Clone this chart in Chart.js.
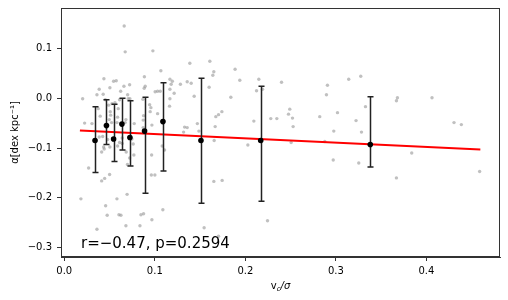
<!DOCTYPE html>
<html>
<head>
<meta charset="utf-8">
<script src="https://cdn.jsdelivr.net/npm/chart.js@4"></script>
<style>
  body { margin: 0; background: #fff; }
  canvas { display: block; }
</style>
</head>
<body>
<canvas id="grafico" width="508" height="300"></canvas>
<script>
// individual galaxies (grey cloud): v_c/sigma, alpha
const puntosX = [0.0203, 0.0184, 0.0269, 0.0225, 0.0306, 0.0361, 0.0386, 0.0438, 0.0430, 0.0453,
  0.0375, 0.0397, 0.0490, 0.0504, 0.0545, 0.0574, 0.0527, 0.0560, 0.0508, 0.0512,
  0.0497, 0.0523, 0.0582, 0.0596, 0.0589, 0.0611, 0.0623, 0.0386, 0.0424, 0.0435,
  0.0413, 0.0441, 0.0479, 0.0504, 0.0611, 0.0589, 0.0413, 0.0446, 0.0501, 0.0457,
  0.0474, 0.0361, 0.0604, 0.0626, 0.0582, 0.0694, 0.0681, 0.0836, 0.0847, 0.0876,
  0.0968, 0.0962, 0.1001, 0.1089, 0.0698, 0.0722, 0.0684, 0.0640, 0.0640, 0.0747,
  0.0762, 0.0769, 0.0965, 0.1082, 0.1108, 0.0662, 0.0673, 0.0979, 0.1067, 0.0885,
  0.1167, 0.1194, 0.0659, 0.0722, 0.0894, 0.0883, 0.1004, 0.1031, 0.1060, 0.1181,
  0.1167, 0.1214, 0.1283, 0.0700, 0.0706, 0.0725, 0.0869, 0.0943, 0.0957, 0.0949,
  0.1167, 0.1163, 0.1031, 0.0876, 0.0872, 0.0681, 0.0673, 0.0773, 0.0872, 0.0968,
  0.1329, 0.1358, 0.1318, 0.1358, 0.1402, 0.1387, 0.1435, 0.1470, 0.1487, 0.1608,
  0.1652, 0.1641, 0.1600, 0.1741, 0.1704, 0.1674, 0.1667, 0.1656, 0.1652, 0.1744,
  0.1545, 0.1704, 0.1887, 0.1939, 0.1840, 0.2028, 0.2094, 0.2149, 0.2124, 0.2190,
  0.2400, 0.2281, 0.2348, 0.2491, 0.2477, 0.2521, 0.2528, 0.2506, 0.2245, 0.2822,
  0.2907, 0.2896, 0.3018, 0.2977, 0.2971, 0.3142, 0.3275, 0.3327, 0.3223, 0.3283,
  0.3253, 0.3669, 0.3680, 0.3669, 0.3838, 0.4062, 0.4305, 0.4386, 0.4588, 0.2878];
const puntosY = [-0.001, -0.202, -0.140, -0.050, -0.051, 0.007, 0.018, 0.039, 0.008, -0.003,
  -0.021, -0.036, -0.014, 0.021, 0.034, 0.035, -0.011, -0.009, -0.027, -0.034,
  -0.043, -0.049, -0.049, -0.021, -0.038, -0.003, 0.014, -0.078, -0.077, -0.098,
  -0.108, -0.102, -0.083, -0.098, -0.089, -0.096, -0.166, -0.161, -0.153, -0.216,
  -0.235, -0.263, -0.234, -0.235, -0.202, -0.193, -0.256, -0.256, -0.234, -0.232,
  -0.244, -0.154, -0.154, -0.224, -0.133, -0.120, -0.108, -0.080, -0.091, -0.082,
  -0.092, -0.114, -0.114, -0.096, -0.104, 0.145, 0.093, 0.095, 0.055, 0.043,
  0.038, 0.034, 0.024, 0.027, 0.024, 0.020, 0.013, 0.014, 0.014, 0.028,
  0.018, 0.010, 0.028, 0.007, -0.001, -0.001, -0.002, -0.013, -0.019, -0.027,
  -0.001, -0.016, -0.031, -0.035, -0.044, -0.043, -0.049, -0.051, -0.059, -0.054,
  -0.058, -0.059, -0.068, 0.033, 0.030, 0.070, 0.004, -0.051, -0.066, 0.074,
  0.053, 0.046, 0.022, -0.027, -0.033, -0.037, -0.057, -0.085, -0.167, -0.165,
  -0.260, -0.277, 0.058, 0.036, 0.002, -0.094, -0.046, 0.038, 0.015, 0.018,
  0.032, -0.041, -0.041, -0.022, -0.032, -0.040, -0.057, -0.089, -0.246, -0.037,
  0.026, 0.007, -0.029, -0.066, -0.124, 0.038, 0.044, -0.017, -0.045, -0.068,
  -0.130, -0.005, 0.001, -0.160, -0.110, 0.001, -0.049, -0.053, -0.147, -0.087];

// binned medians with error bars
const binX = [0.034, 0.0466, 0.0545, 0.0637, 0.0725, 0.0887, 0.109, 0.151, 0.217, 0.338];
const binY = [-0.085, -0.055, -0.082, -0.052, -0.079, -0.066, -0.047, -0.085, -0.085, -0.093];
const binArriba = [-0.017, -0.003, -0.012, 0.000, -0.005, 0.002, 0.031, 0.040, 0.024, 0.003];
const binAbajo = [-0.149, -0.093, -0.127, -0.104, -0.136, -0.191, -0.146, -0.211, -0.207, -0.138];

// linear fit
const ajusteX = [0.0173, 0.4596];
const ajusteY = [-0.065, -0.103];

const ticksX = [0.0, 0.1, 0.2, 0.3, 0.4];
const ticksY = [-0.3, -0.2, -0.1, 0.0, 0.1];

const textoCorrelacion = 'r=\u22120.47, p=0.2594';
const tituloY = '\u03b1[dex kpc\u207b\u00b9]';

const FUENTE = '"DejaVu Sans", sans-serif';
const COLOR_EJE = '#333';

function formatoTick(v) {
    return v.toFixed(1).replace('-', '\u2212');
}

const extras = {
    id: 'extras',
    beforeDatasetDraw(chart, args) {
        // error bars go just under the binned points
        if (args.index !== 0) return;
        const { ctx, scales: { x, y } } = chart;
        ctx.save();
        ctx.strokeStyle = '#222';
        ctx.lineWidth = 1.5;
        binX.forEach((v, i) => {
            const px = Math.round(x.getPixelForValue(v)) + 0.5;
            const arriba = y.getPixelForValue(binArriba[i]);
            const abajo = y.getPixelForValue(binAbajo[i]);
            ctx.beginPath();
            ctx.moveTo(px, arriba);
            ctx.lineTo(px, abajo);
            ctx.moveTo(px - 3, arriba);
            ctx.lineTo(px + 3, arriba);
            ctx.moveTo(px - 3, abajo);
            ctx.lineTo(px + 3, abajo);
            ctx.stroke();
        });
        ctx.restore();
    },
    afterDraw(chart) {
        const { ctx, chartArea: a } = chart;
        ctx.save();
        // frame
        ctx.strokeStyle = COLOR_EJE;
        ctx.lineWidth = 1;
        ctx.strokeRect(Math.round(a.left) + 0.5, Math.round(a.top) + 0.5,
            Math.round(a.width) - 1, Math.round(a.height) - 1);

        // annotation
        ctx.fillStyle = '#000';
        ctx.font = '15px ' + FUENTE;
        ctx.textBaseline = 'alphabetic';
        ctx.textAlign = 'left';
        ctx.fillText(textoCorrelacion, a.left + 20, a.bottom - 9);

        // y title
        ctx.font = '10px ' + FUENTE;
        ctx.translate(15, (a.top + a.bottom) / 2);
        ctx.rotate(-Math.PI / 2);
        ctx.textAlign = 'center';
        ctx.textBaseline = 'middle';
        ctx.fillText(tituloY, 0, 0);
        ctx.setTransform(1, 0, 0, 1, 0, 0);

        // x title: v_c / sigma
        const partes = [
            { t: 'v', f: '10px ' + FUENTE, dy: 0 },
            { t: 'c', f: 'italic 7px ' + FUENTE, dy: 2 },
            { t: '/\u03c3', f: 'italic 10px ' + FUENTE, dy: 0 }
        ];
        let ancho = 0;
        partes.forEach(p => { ctx.font = p.f; p.w = ctx.measureText(p.t).width; ancho += p.w; });
        let cx = (a.left + a.right) / 2 - ancho / 2;
        ctx.textAlign = 'left';
        ctx.textBaseline = 'alphabetic';
        partes.forEach(p => {
            ctx.font = p.f;
            ctx.fillText(p.t, cx, 289 + p.dy);
            cx += p.w;
        });
        ctx.restore();
    }
};

const ctx = document.getElementById('grafico').getContext('2d');
const miGrafico = new Chart(ctx, {
    type: 'scatter',
    data: {
        datasets: [
            {
                label: 'bins',
                data: binX.map((v, i) => ({ x: v, y: binY[i] })),
                pointRadius: 2.8,
                pointBackgroundColor: '#000',
                pointBorderColor: '#000',
                pointBorderWidth: 0
            },
            {
                label: 'ajuste',
                type: 'line',
                data: ajusteX.map((v, i) => ({ x: v, y: ajusteY[i] })),
                borderColor: '#ff0000',
                borderWidth: 2,
                pointRadius: 0,
                fill: false
            },
            {
                label: 'galaxias',
                data: puntosX.map((v, i) => ({ x: v, y: puntosY[i] })),
                pointRadius: 1.7,
                pointBackgroundColor: 'rgba(140,140,140,0.55)',
                pointBorderWidth: 0
            }
        ]
    },
    options: {
        responsive: false,
        animation: false,
        devicePixelRatio: 1,
        layout: { padding: { top: 8, right: 8, left: 0, bottom: 0 } },
        plugins: {
            legend: { display: false },
            tooltip: { enabled: false }
        },
        scales: {
            x: {
                type: 'linear',
                min: -0.0036,
                max: 0.4813,
                afterFit: s => { s.height = 43; s.paddingLeft = 0; s.paddingRight = 0; },
                afterBuildTicks: s => { s.ticks = ticksX.map(v => ({ value: v })); },
                grid: { drawOnChartArea: false, drawTicks: true, tickLength: 4, color: COLOR_EJE },
                border: { display: true, color: COLOR_EJE, width: 1 },
                ticks: {
                    color: '#000',
                    padding: 4,
                    maxRotation: 0,
                    font: { family: FUENTE, size: 10 },
                    callback: v => formatoTick(v)
                }
            },
            y: {
                type: 'linear',
                min: -0.3187,
                max: 0.181,
                afterFit: s => { s.width = 61; s.paddingTop = 0; s.paddingBottom = 0; },
                afterBuildTicks: s => { s.ticks = ticksY.map(v => ({ value: v })); },
                grid: { drawOnChartArea: false, drawTicks: true, tickLength: 4, color: COLOR_EJE },
                border: { display: true, color: COLOR_EJE, width: 1 },
                ticks: {
                    color: '#000',
                    padding: 5,
                    font: { family: FUENTE, size: 10 },
                    callback: v => formatoTick(v)
                }
            }
        }
    },
    plugins: [extras]
});
</script>
</body>
</html>
